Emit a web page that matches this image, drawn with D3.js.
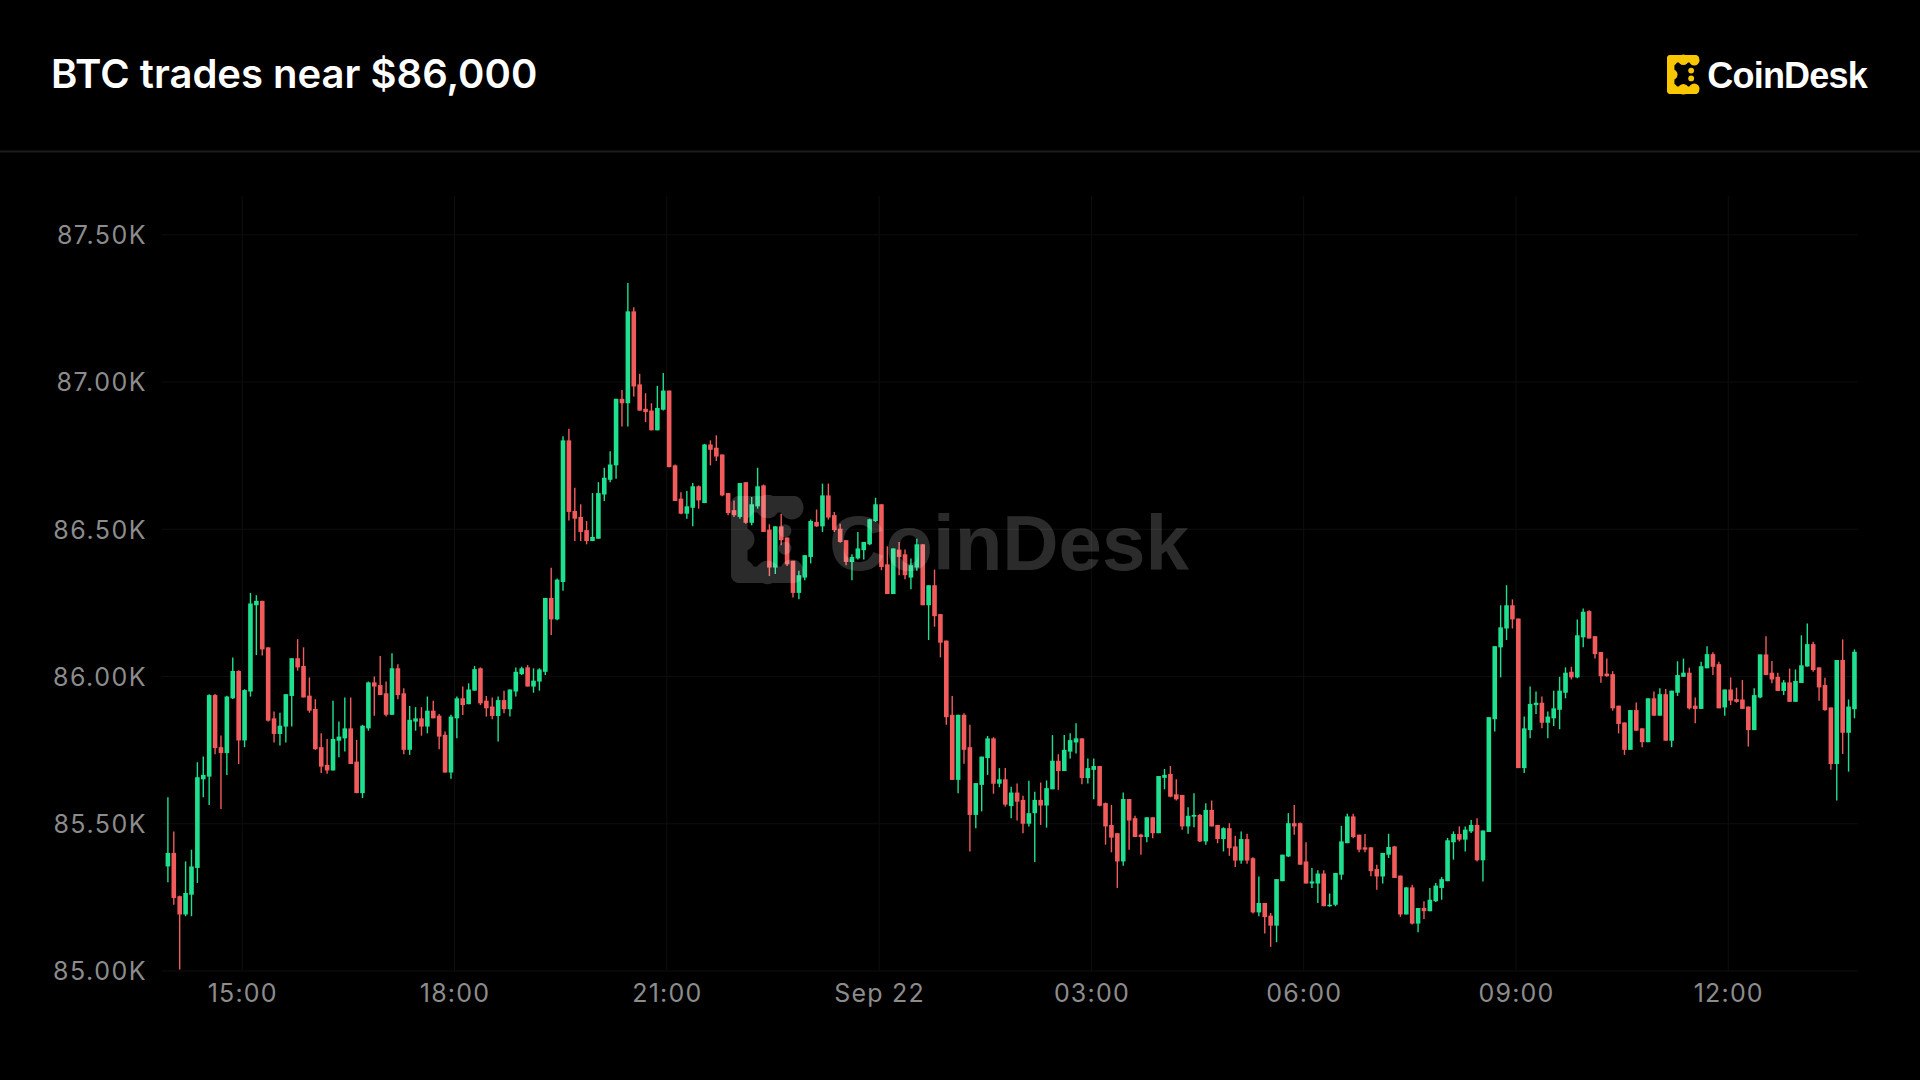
<!DOCTYPE html>
<html>
<head>
<meta charset="utf-8">
<script src="https://cdn.jsdelivr.net/npm/d3@7"></script>
<style>
  html, body { margin: 0; padding: 0; background: #000; }
  svg { display: block; }
</style>
</head>
<body>
<svg id="chart" width="1920" height="1080"></svg>
<script>
// ---------------- DATA ----------------
const title = "BTC trades near $86,000";
const brand = "CoinDesk";
const startTime = new Date(2025, 8, 21, 13, 55); // first 5-minute candle
const candleMinutes = 5;

const openVals = [85355,85401,85254,85192,85259,85350,85651,85660,85937,85760,85740,85926,86019,85783,85949,86242,86257,86099,85858,85805,85830,85934,86062,86036,85935,85890,85760,85700,85681,85782,85790,85824,85711,85604,85824,85980,85971,85943,85870,86028,85943,85751,85847,85858,85830,85884,85867,85802,85674,85858,85926,85906,85952,86028,85918,85898,85866,85920,85889,85949,86008,86031,85966,85983,86016,86267,86194,86321,86802,86562,86542,86497,86460,86468,86618,86668,86717,86943,86928,87240,86992,86909,86903,86836,86906,86971,86717,86604,86553,86573,86646,86589,86788,86777,86754,86623,86565,86542,86660,86522,86578,86649,86499,86370,86510,86472,86393,86284,86336,86406,86525,86510,86615,86548,86502,86463,86389,86401,86429,86449,86528,86585,86381,86280,86431,86415,86336,86370,86449,86242,86310,86212,86122,85870,85649,85870,85760,85530,85632,85723,85790,85636,85651,85560,85606,85581,85500,85536,85581,85562,85617,85714,85679,85745,85776,85790,85655,85683,85696,85570,85496,85468,85372,85584,85519,85463,85455,85522,85468,85656,85669,85600,85598,85491,85524,85530,85440,85547,85496,85448,85485,85423,85375,85448,85383,85199,85231,85188,85154,85305,85389,85502,85502,85372,85297,85297,85331,85220,85225,85327,85434,85525,85463,85420,85420,85346,85321,85395,85423,85324,85192,85284,85161,85214,85203,85237,85282,85305,85437,85465,85446,85474,85496,85376,85472,85855,86099,86163,86242,86197,85689,85818,85903,85911,85843,85858,85887,85945,86016,85997,86133,86222,86137,86083,86010,86008,85901,85844,85751,85886,85824,85777,85926,85867,85940,85782,85945,85999,86013,85901,85890,86028,86076,86042,85895,85956,85923,85922,85898,85818,85929,86075,86013,85999,85951,85980,85914,85978,86034,86110,86031,85971,85895,85703,86056,85809,85889];
const highVals = [85590,85474,85256,85372,85412,85709,85728,85940,85941,85800,85935,86065,86021,85957,86284,86276,86257,86099,85881,85877,85940,86062,86127,86099,85997,85923,85807,85788,85918,85847,85929,85929,85785,85836,85983,86000,86070,85983,86079,86042,85960,85900,85896,85896,85932,85918,85873,85813,85870,85932,85966,85977,86036,86031,85934,85929,85932,85952,85956,86031,86033,86039,86028,86028,86267,86369,86333,86816,86841,86641,86585,86528,86623,86660,86709,86765,86943,86973,87336,87254,87028,86962,86928,86987,87031,86971,86720,86626,86630,86657,86649,86790,86802,86819,86754,86623,86598,86657,86660,86610,86709,86652,86517,86510,86553,86472,86393,86359,86412,86533,86567,86655,86655,86559,86519,86463,86415,86491,86457,86536,86607,86585,86442,86435,86457,86431,86401,86468,86449,86310,86363,86212,86122,85934,85870,85875,85836,85638,85728,85798,85794,85689,85689,85626,85637,85595,85646,85609,85640,85647,85801,85736,85801,85807,85841,85790,85722,85722,85696,85572,85564,85468,85606,85584,85527,85466,85522,85522,85662,85686,85696,85651,85598,85556,85604,85533,85570,85579,85496,85488,85502,85459,85474,85466,85386,85321,85231,85197,85312,85395,85536,85564,85504,85437,85350,85342,85342,85263,85333,85493,85534,85534,85463,85465,85420,85361,85401,85466,85425,85324,85284,85293,85214,85237,85282,85299,85319,85452,85474,85491,85491,85513,85519,85477,85862,86103,86242,86310,86262,86197,85864,85966,85949,85932,85881,85952,85999,86031,86033,86194,86231,86225,86137,86083,86061,86018,85901,85844,85886,85912,85824,85926,85949,85960,85958,85952,86052,86061,86030,85929,86050,86103,86082,86050,85956,85997,85962,85988,85898,85960,86075,86137,86053,86013,85988,86027,86024,86140,86180,86118,86031,85996,85895,86056,86126,85922,86092];
const lowVals = [85301,85225,85005,85186,85186,85299,85590,85564,85736,85550,85666,85924,85703,85760,85932,86073,86071,85847,85776,85766,85776,85830,86020,85929,85877,85751,85672,85670,85681,85726,85745,85703,85604,85587,85816,85867,85937,85864,85870,85923,85736,85734,85816,85799,85807,85858,85753,85674,85653,85790,85869,85906,85952,85903,85864,85855,85779,85875,85864,85932,86005,85966,85945,85952,86005,86141,86191,86291,86530,86460,86460,86449,86460,86468,86596,86660,86672,86849,86849,86951,86903,86864,86836,86836,86903,86711,86596,86551,86536,86510,86570,86589,86717,86732,86612,86548,86542,86536,86519,86514,86570,86491,86341,86348,86446,86375,86268,86262,86327,86384,86508,86491,86533,86491,86454,86378,86327,86397,86397,86446,86525,86361,86280,86280,86344,86330,86296,86359,86242,86124,86169,86065,85836,85649,85604,85704,85406,85485,85542,85666,85602,85624,85559,85519,85511,85468,85491,85370,85496,85487,85617,85615,85679,85722,85739,85634,85637,85583,85559,85429,85403,85282,85357,85412,85455,85395,85437,85451,85468,85617,85590,85579,85480,85466,85488,85438,85429,85491,85434,85406,85391,85353,85364,85364,85195,85186,85127,85082,85098,85305,85387,85463,85361,85297,85282,85231,85220,85218,85220,85310,85434,85451,85403,85403,85322,85276,85297,85384,85316,85184,85192,85158,85132,85177,85203,85234,85242,85305,85378,85440,85406,85469,85372,85304,85472,85813,85997,86124,86163,85689,85672,85790,85873,85824,85790,85832,85821,85926,85990,85994,86099,86129,86061,85979,85999,85884,85807,85734,85751,85816,85760,85777,85867,85867,85782,85760,85934,85999,85888,85841,85890,86028,86005,85892,85867,85903,85911,85890,85762,85818,85926,86005,85977,85951,85937,85914,85914,85978,86034,86016,85918,85884,85683,85579,85737,85677,85858];
const closeVals = [85401,85248,85192,85265,85355,85658,85666,85937,85757,85740,85932,86019,85783,85954,86248,86257,86092,85850,85805,85833,85940,86062,86031,85929,85884,85753,85694,85681,85788,85796,85824,85703,85604,85833,85980,85966,85937,85870,86028,85937,85751,85853,85858,85830,85884,85858,85796,85674,85864,85926,85903,85956,86025,85909,85892,85866,85920,85889,85956,86016,86028,85966,85986,86024,86267,86194,86329,86802,86559,86536,86491,86460,86474,86623,86675,86720,86943,86928,87240,86985,86903,86898,86836,86912,86971,86711,86596,86553,86578,86646,86598,86788,86770,86747,86615,86555,86548,86657,86522,86585,86646,86491,86370,86510,86463,86381,86284,86344,86412,86528,86510,86615,86540,86497,86457,86389,86406,86435,86457,86534,86585,86372,86280,86435,86406,86344,86378,86449,86242,86310,86205,86115,85862,85649,85870,85751,85530,85638,85728,85790,85636,85651,85565,85606,85575,85500,85536,85581,85562,85621,85714,85679,85751,85784,85790,85655,85689,85696,85561,85491,85453,85372,85584,85511,85455,85455,85522,85468,85662,85666,85592,85583,85491,85527,85530,85440,85547,85491,85448,85485,85417,85375,85448,85375,85199,85231,85183,85154,85312,85395,85502,85491,85361,85297,85304,85331,85220,85225,85333,85440,85525,85455,85412,85412,85339,85321,85401,85421,85316,85192,85284,85161,85214,85203,85242,85290,85312,85444,85465,85446,85480,85496,85376,85477,85862,86103,86167,86242,86194,85689,85824,85907,85911,85843,85864,85892,85952,86013,85997,86140,86220,86129,86076,86001,86001,85892,85839,85751,85886,85816,85777,85926,85867,85940,85782,85952,86005,86013,85892,85890,86035,86076,86033,85892,85956,85918,85914,85890,85818,85937,86075,86005,85990,85951,85980,85914,85985,86038,86110,86022,85963,85886,85703,86056,85809,85898,86084];

const yTickValues = [85000, 85500, 86000, 86500, 87000, 87500];
const xTickTimes = [
  new Date(2025, 8, 21, 15, 0), new Date(2025, 8, 21, 18, 0), new Date(2025, 8, 21, 21, 0),
  new Date(2025, 8, 22, 0, 0), new Date(2025, 8, 22, 3, 0), new Date(2025, 8, 22, 6, 0),
  new Date(2025, 8, 22, 9, 0), new Date(2025, 8, 22, 12, 0)
];
const xTickLabels = ["15:00", "18:00", "21:00", "Sep 22", "03:00", "06:00", "09:00", "12:00"];

// ---------------- BUILD ----------------
const candles = openVals.map((o, i) => ({
  t: d3.timeMinute.offset(startTime, i * candleMinutes),
  o, h: highVals[i], l: lowVals[i], c: closeVals[i]
}));

const svg = d3.select("#chart");
const W = 1920, H = 1080;
const plot = { left: 162, right: 1858, top: 196, bottom: 971 };

const x = d3.scaleTime()
  .domain([new Date(2025, 8, 21, 13, 52), new Date(2025, 8, 22, 13, 50)])
  .range([plot.left, plot.right]);
const y = d3.scaleLinear()
  .domain([85000, 87500])
  .range([plot.bottom, 234.8]);

const UP = "#1ee08f", DOWN = "#f15b5b";
const axisFont = "Inter, 'Noto Sans', sans-serif";

svg.append("rect").attr("width", W).attr("height", H).attr("fill", "#000");

// Header
svg.append("text")
  .attr("x", 51).attr("y", 88)
  .attr("fill", "#ffffff")
  .attr("font-family", axisFont)
  .attr("font-weight", 600)
  .attr("font-size", 40)
  .text(title);

svg.append("line")
  .attr("x1", 0).attr("x2", W).attr("y1", 151.5).attr("y2", 151.5)
  .attr("stroke", "#1c1c1c").attr("stroke-width", 2);

// Logo icon builder: bracket frame with blobby corners and a colon inside
function logoIcon(g, size, fill) {
  const s = size, t = s * 0.19, r = s * 0.135, wBar = s * 0.82;
  g.append("rect").attr("x", 0).attr("y", 0).attr("width", wBar).attr("height", t).attr("rx", t / 2).attr("fill", fill);
  g.append("rect").attr("x", 0).attr("y", s - t).attr("width", wBar).attr("height", t).attr("rx", t / 2).attr("fill", fill);
  g.append("rect").attr("x", 0).attr("y", 0).attr("width", t).attr("height", s).attr("rx", t / 2).attr("fill", fill);
  [[r, r], [wBar - r * 0.9, r], [r, s - r], [wBar - r * 0.9, s - r], [r, s / 2], [s * 0.42, r * 0.9], [s * 0.42, s - r * 0.9]]
    .forEach(([cx, cy]) => g.append("circle").attr("cx", cx).attr("cy", cy).attr("r", r).attr("fill", fill));
  [[s * 0.62, s * 0.4], [s * 0.62, s * 0.6]].forEach(([cx, cy]) =>
    g.append("circle").attr("cx", cx).attr("cy", cy).attr("r", s * 0.075).attr("fill", fill));
}

const hdrIcon = svg.append("g").attr("transform", "translate(1667,55)");
logoIcon(hdrIcon, 39, "#f8c700");
svg.append("text")
  .attr("x", 1867).attr("y", 88)
  .attr("text-anchor", "end")
  .attr("fill", "#ffffff")
  .attr("font-family", "'Liberation Sans', Arial, sans-serif")
  .attr("font-weight", 700)
  .attr("font-size", 36)
  .attr("letter-spacing", -0.8)
  .text(brand);

// Grid (very faint)
const grid = svg.append("g");
grid.selectAll("line.h").data(yTickValues).join("line")
  .attr("x1", plot.left).attr("x2", plot.right)
  .attr("y1", d => y(d)).attr("y2", d => y(d))
  .attr("stroke", "#0e0e0e").attr("stroke-width", 1);
grid.selectAll("line.v").data(xTickTimes).join("line")
  .attr("x1", d => x(d)).attr("x2", d => x(d))
  .attr("y1", plot.top).attr("y2", plot.bottom)
  .attr("stroke", "#0e0e0e").attr("stroke-width", 1);

// Axes labels
const fmtK = v => (v / 1000).toFixed(2) + "K";
const yAxis = d3.axisLeft(y).tickValues(yTickValues).tickFormat(fmtK).tickSize(0).tickPadding(0);
const gy = svg.append("g").attr("transform", "translate(147,0)").call(yAxis);
gy.select(".domain").remove();
gy.selectAll("text")
  .attr("fill", "#8c8c8c").attr("font-family", axisFont).attr("font-size", 25)
  .attr("letter-spacing", 1.5).attr("dy", "0.35em");

const xAxis = d3.axisBottom(x).tickValues(xTickTimes)
  .tickFormat((d, i) => xTickLabels[i]).tickSize(0).tickPadding(0);
const gx = svg.append("g").attr("transform", "translate(0,993)").call(xAxis);
gx.select(".domain").remove();
gx.selectAll("text")
  .attr("fill", "#8c8c8c").attr("font-family", axisFont).attr("font-size", 25)
  .attr("letter-spacing", 1.2).attr("dy", "0.35em");

// Candles
const half = d3.timeMinute.offset(startTime, candleMinutes / 2) - startTime;
const cx = d => x(new Date(+d.t + half));
const bodyW = 4.6;
const cg = svg.append("g");
cg.selectAll("line.wick").data(candles).join("line")
  .attr("x1", cx).attr("x2", cx)
  .attr("y1", d => y(d.h)).attr("y2", d => y(d.l))
  .attr("stroke", d => d.c >= d.o ? UP : DOWN)
  .attr("stroke-width", 1.4);
cg.selectAll("rect.body").data(candles).join("rect")
  .attr("x", d => cx(d) - bodyW / 2)
  .attr("width", bodyW)
  .attr("y", d => y(Math.max(d.o, d.c)))
  .attr("height", d => Math.max(1.2, Math.abs(y(d.o) - y(d.c))))
  .attr("fill", d => d.c >= d.o ? UP : DOWN);

// Watermark (on top, translucent)
const wm = svg.append("g").attr("opacity", 0.17);
const wmIcon = wm.append("g").attr("transform", "translate(731,496)");
logoIcon(wmIcon, 87, "#ffffff");
wm.append("text")
  .attr("x", 829).attr("y", 570)
  .attr("fill", "#ffffff")
  .attr("font-family", "'Liberation Sans', Arial, sans-serif")
  .attr("font-weight", 700)
  .attr("font-size", 78)
  .text(brand);
</script>
</body>
</html>
